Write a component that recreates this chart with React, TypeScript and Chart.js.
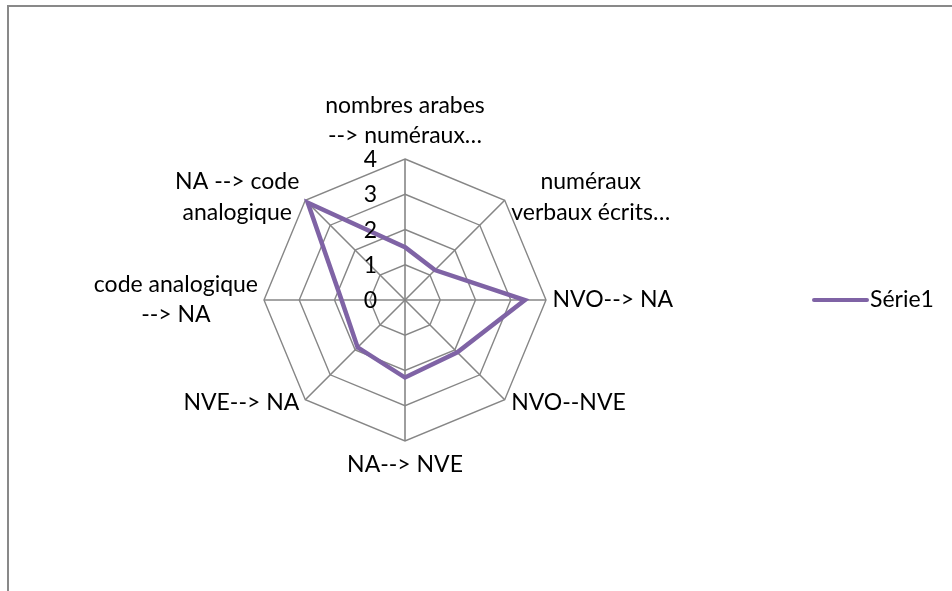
import React, { useEffect, useRef } from "react";
import { Chart, registerables } from "chart.js";

Chart.register(...registerables);

// ---- data ----
const categories: string[][] = [
  ["nombres arabes", "--> numéraux…"],
  ["numéraux", "verbaux écrits…"],
  ["NVO--> NA"],
  ["NVO--NVE"],
  ["NA--> NVE"],
  ["NVE--> NA"],
  ["code analogique", "--> NA"],
  ["NA --> code", "analogique"],
];
const seriesName = "Série1";
const seriesValues = [1.5, 1.2, 3.4, 2.1, 2.2, 1.9, 1.8, 3.9];
const tickLabels = ["0", "1", "2", "3", "4"];
const axisMin = 0;
const axisMax = 4;

const FONT = "23px Lato";
const SERIES_COLOR = "#7F63A5";
const GRID_COLOR = "#868686";

const textPlugin = {
  id: "excelRadarText",
  afterDraw(chart: any) {
    const scale = chart.scales.r;
    const ctx: CanvasRenderingContext2D = chart.ctx;
    ctx.save();
    ctx.font = FONT;
    ctx.fillStyle = "#000000";
    ctx.textBaseline = "alphabetic";

    // tick labels, left of the vertical axis
    ctx.textAlign = "right";
    scale.ticks.forEach((t: any) => {
      const d = scale.getDistanceFromCenterForValue(t.value);
      ctx.fillText(String(t.label), scale.xCenter - 28, scale.yCenter - d + 8);
    });

    // category labels
    const lh = 30.5;
    (chart.data.labels as any[]).forEach((lab, i) => {
      const lines: string[] = Array.isArray(lab) ? lab : [String(lab)];
      const p = scale.getPointPosition(i, scale.drawingArea);
      const dx = p.x - scale.xCenter;
      const dy = p.y - scale.yCenter;
      const boxW = Math.max(...lines.map((l) => ctx.measureText(l).width));
      let cx: number;
      let first: number;
      if (Math.abs(dx) < 1) {
        cx = p.x;
        first = dy < 0 ? p.y - 16 - lh * (lines.length - 1) : p.y + 31;
      } else {
        cx = dx > 0 ? p.x + 6.5 + boxW / 2 : p.x - 6 - boxW / 2;
        const mid = p.y + 7 + 4 * (dy / scale.drawingArea);
        first = mid - (lh * (lines.length - 1)) / 2;
      }
      ctx.textAlign = "center";
      lines.forEach((l, k) => ctx.fillText(l, cx, first + k * lh));
    });

    // legend
    const ds = chart.data.datasets[0];
    const ly = scale.yCenter;
    const lx = chart.width - 138;
    ctx.strokeStyle = ds.borderColor;
    ctx.lineWidth = 4;
    ctx.lineCap = "round";
    ctx.beginPath();
    ctx.moveTo(lx, ly);
    ctx.lineTo(lx + 53, ly);
    ctx.stroke();
    ctx.textAlign = "left";
    ctx.fillText(ds.label, lx + 56, ly + 7);
    ctx.restore();
  },
};

export default function App() {
  const ref = useRef<HTMLCanvasElement | null>(null);

  useEffect(() => {
    if (!ref.current) return;
    const chart = new Chart(ref.current, {
      type: "radar",
      data: {
        labels: categories,
        datasets: [
          {
            label: seriesName,
            data: seriesValues,
            borderColor: SERIES_COLOR,
            backgroundColor: "transparent",
            borderWidth: 4.5,
            pointRadius: 0,
            pointHoverRadius: 0,
            fill: false,
            tension: 0,
          },
        ],
      },
      options: {
        responsive: false,
        animation: false,
        layout: { padding: { left: 264, top: 159, right: 406, bottom: 150 } },
        plugins: {
          legend: { display: false },
          tooltip: { enabled: false },
          title: { display: false },
        },
        scales: {
          r: {
            min: axisMin,
            max: axisMax,
            beginAtZero: true,
            ticks: {
              display: false,
              stepSize: 1,
              callback: (_v: any, idx: number) => tickLabels[idx],
            },
            grid: { color: GRID_COLOR, lineWidth: 1.4 },
            angleLines: { color: GRID_COLOR, lineWidth: 1.6 },
            pointLabels: { display: false },
          },
        },
      },
      plugins: [textPlugin],
    });
    return () => chart.destroy();
  }, []);

  return (
    <div style={{ position: "absolute", left: 0, top: 0, width: 952, height: 591, overflow: "hidden", background: "#fff" }}>
      <div
        style={{
          position: "absolute",
          left: 7,
          top: 5,
          width: 1000,
          height: 700,
          borderTop: "2px solid #898989",
          borderLeft: "2px solid #898989",
        }}
      />
      <canvas ref={ref} width={952} height={591} style={{ position: "absolute", left: 0, top: 0, display: "block" }} />
    </div>
  );
}
